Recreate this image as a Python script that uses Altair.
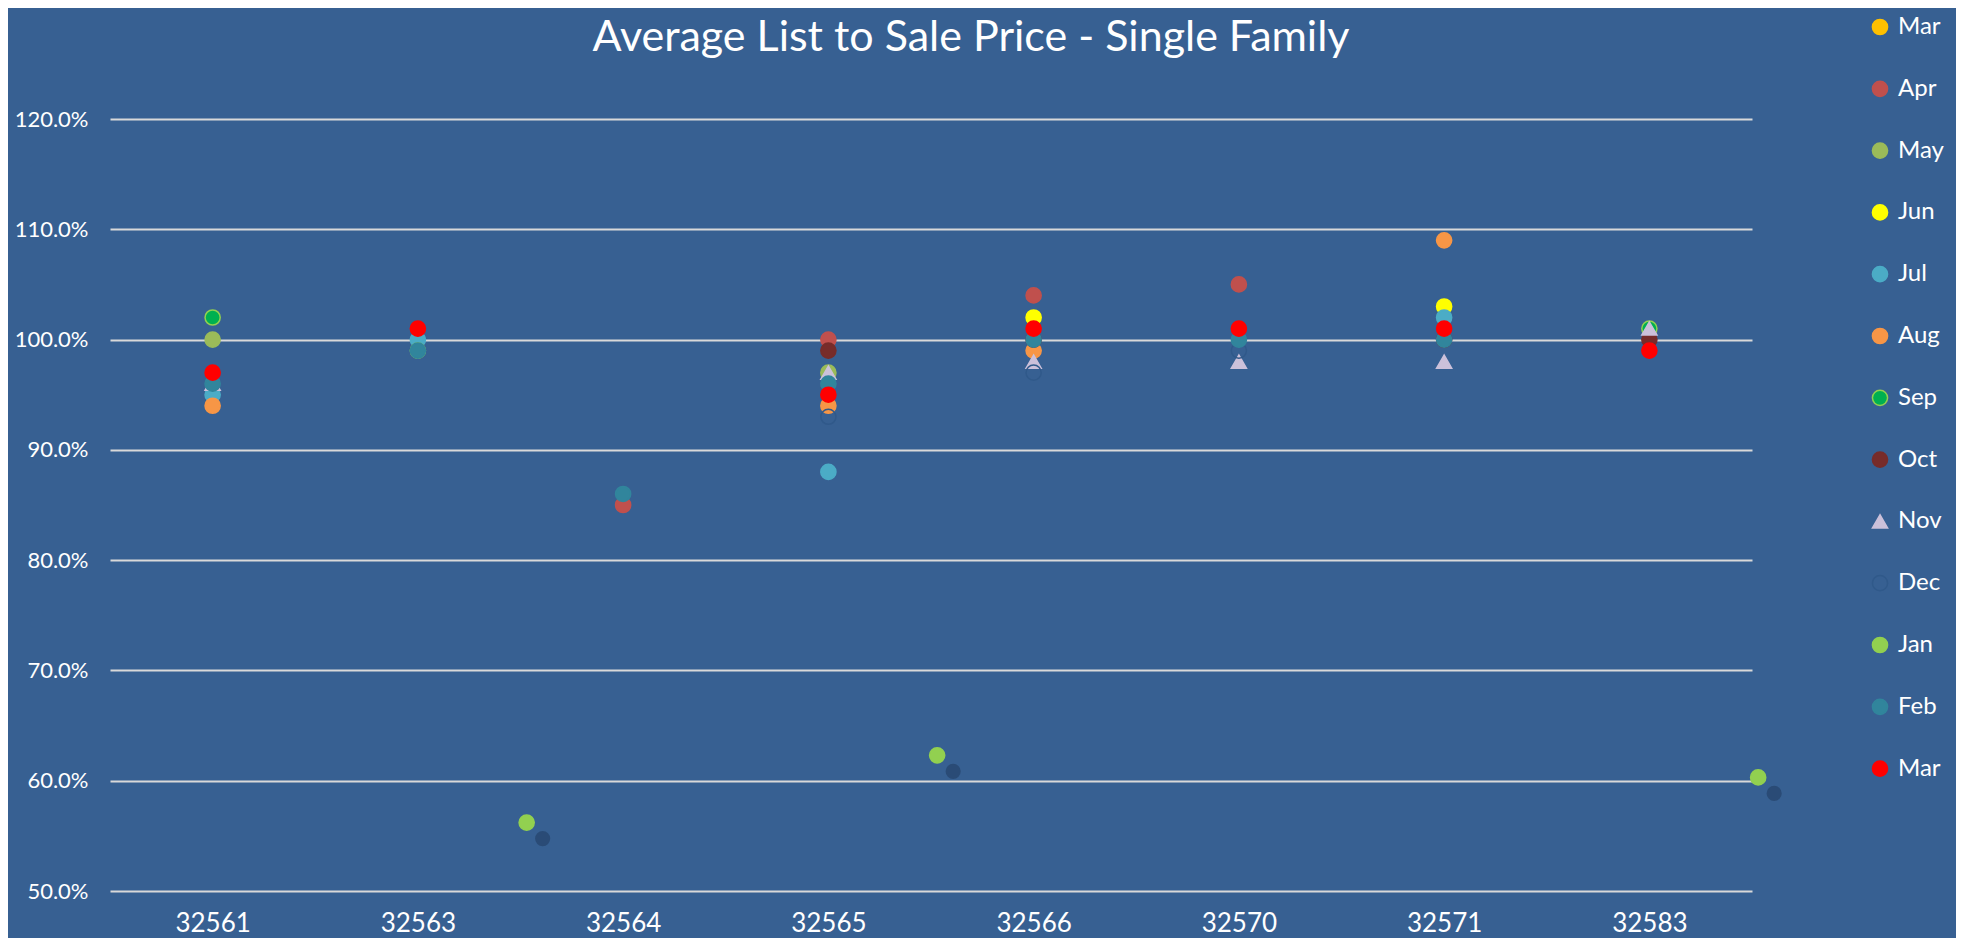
import altair as alt
import pandas as pd

zips = ["32561", "32563", "32564", "32565", "32566", "32570", "32571", "32583"]

series = ["Mar", "Apr", "May", "Jun", "Jul", "Aug", "Sep", "Oct", "Nov", "Dec", "Jan", "Feb", "Mar "]
fills = ["#FFC000", "#C0504D", "#9BBB59", "#FFFF00", "#4BACC6", "#F79646", "#00B050",
         "#772C2A", "#CCC1DA", "transparent", "#92D050", "#31859C", "#FF0000"]
strokes = ["#FFC000", "#C0504D", "#9BBB59", "#FFFF00", "#4BACC6", "#F79646", "#92D050",
           "#772C2A", "#CCC1DA", "#30598A", "#92D050", "#31859C", "#FF0000"]
shapes = ["circle"] * 8 + ["triangle-up"] + ["circle"] * 4
sizes = [230, 230, 230, 230, 230, 230, 250, 230, 190, 250, 150, 230, 360]

# values in percent, one per zip (None = no point)
mar1 = [None, None, None, None, None, None, None, None]
apr = [None, None, 85, 100, 104, 105, None, None]
may = [100, None, None, 97, None, None, None, None]
jun = [None, None, None, None, 102, None, 103, None]
jul = [95, 100, None, 88, None, None, 102, None]
aug = [94, None, None, 94, 99, None, 109, None]
sep = [102, 99, None, None, None, None, None, 101]
oct_ = [None, None, None, 99, 100, None, 100, 100]
nov = [96, None, None, 97, 98, 98, 98, 101]
dec = [None, None, None, 93, 97, 99, None, None]
jan = [None, None, None, None, None, None, None, None]
feb = [96, 99, 86, 96, 100, 100, 100, None]
mar2 = [97, 101, None, 95, 101, 101, 101, 99]

# Jan points that sit between categories (band position, percent)
jan_pos = [2.03, 4.03, 8.03]
jan_vals = [56.2, 62.3, 60.3]

all_vals = [mar1, apr, may, jun, jul, aug, sep, oct_, nov, dec, jan, feb, mar2]

rows = []
for s, vals in zip(series, all_vals):
    for i, v in enumerate(vals):
        if v is not None:
            rows.append({"key": s, "pos": i + 0.5, "val": v / 100})
    if s == "Jan":
        for p, v in zip(jan_pos, jan_vals):
            rows.append({"key": s, "pos": p, "val": v / 100})
df = pd.DataFrame(rows)
shadow_df = pd.DataFrame({"pos": jan_pos, "val": [v / 100 for v in jan_vals]})

label_expr = "[" + ",".join("'%s'" % z for z in zips) + "][floor(datum.value)]"

FONT = "Lato"
xscale = alt.Scale(domain=[0, len(zips)], nice=False, zero=False)
yscale = alt.Scale(domain=[0.5, 1.2], nice=False, zero=False)

x = alt.X("pos:Q", scale=xscale,
          axis=alt.Axis(values=[i + 0.5 for i in range(len(zips))], labelExpr=label_expr,
                        grid=False, ticks=False, domain=False, labelFontSize=26,
                        labelColor="#FFFFFF", labelFont=FONT, labelPadding=19, title=None))
y = alt.Y("val:Q", scale=yscale,
          axis=alt.Axis(values=[0.5, 0.6, 0.7, 0.8, 0.9, 1.0, 1.1, 1.2], format=".1%",
                        grid=True, gridColor="#D9D9D9", gridWidth=2, ticks=False, domain=False,
                        labelFontSize=22, labelColor="#FFFFFF", labelFont=FONT,
                        labelPadding=22, title=None))

shadow = alt.Chart(shadow_df).mark_circle(size=230, color="#1B3455", opacity=0.45,
                                          xOffset=16, yOffset=16, clip=False).encode(
    x=alt.X("pos:Q", scale=xscale), y=alt.Y("val:Q", scale=yscale))

pts = alt.Chart(df).mark_point(filled=True, strokeWidth=1.5, opacity=1, clip=False).encode(
    x=x, y=y,
    color=alt.Color("key:N", scale=alt.Scale(domain=series, range=fills), title=None),
    stroke=alt.Stroke("key:N", scale=alt.Scale(domain=series, range=strokes), title=None),
    shape=alt.Shape("key:N", scale=alt.Scale(domain=series, range=shapes), title=None),
    size=alt.Size("key:N", scale=alt.Scale(domain=series, range=sizes), title=None),
)

chart = alt.layer(shadow, pts).properties(
    width=1642, height=772,
    background="#376092",
    autosize=alt.AutoSizeParams(type="none"),
    padding={"left": 102, "top": 111, "right": 204, "bottom": 47},
    title=alt.TitleParams("Average List to Sale Price - Single Family", font=FONT, fontSize=43,
                          fontWeight="normal", color="#FFFFFF", anchor="middle", frame="group",
                          dx=40, offset=-45),
).configure_view(stroke=None).configure_legend(
    orient="none", legendX=1758, legendY=-104, labelFont=FONT, labelFontSize=24,
    labelColor="#FFFFFF", rowPadding=37.8, padding=0, symbolStrokeWidth=1.5, labelOffset=6,
)

chart.save("out.html", embed_options={"renderer": "svg", "actions": False})
